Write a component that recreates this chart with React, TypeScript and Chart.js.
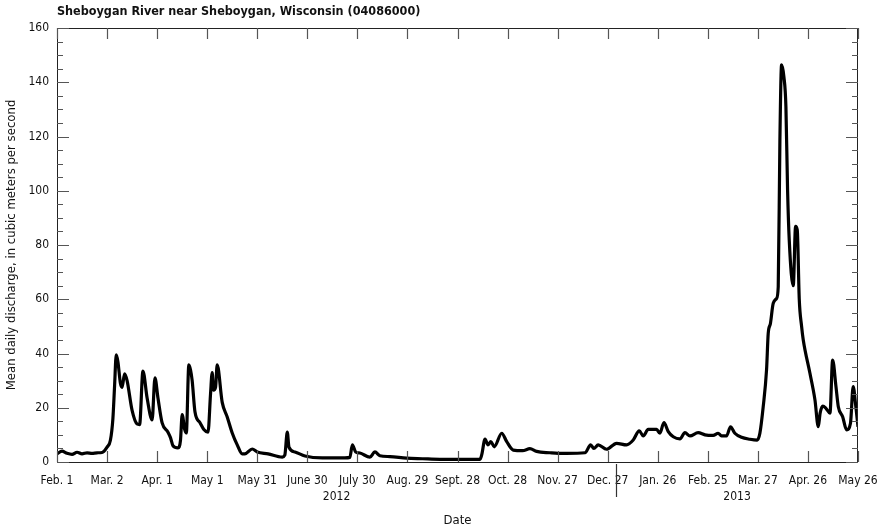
import React, { useEffect, useRef } from "react";
import { Chart, registerables } from "chart.js";

Chart.register(...registerables);

const TITLE = "Sheboygan River near Sheboygan, Wisconsin (04086000)";
const Y_TITLE = "Mean daily discharge, in cubic meters per second";
const X_TITLE = "Date";

// Days since Feb. 1, 2012
const dayIndex: number[] = [
  0, 3, 6, 9, 12, 15, 18, 21, 24, 27, 30, 32, 33.5, 34.5, 35.5, 36.5, 38, 39, 40.5, 42,
  45, 48, 49.5, 51.5, 54, 57, 58.7, 60.5, 63, 66.5, 68, 69.5, 72.5, 74, 75, 76.5, 77.5, 79, 80, 81,
  82.7, 85.7, 88, 90.5, 92, 93, 93.8, 95, 96, 99, 102, 105, 108, 111, 112.6, 117, 120, 126.5, 135, 136.5,
  138, 139, 142.6, 148.6, 159, 172.5, 175.5, 177, 179, 181.5, 187.5, 190.5, 193.5, 199.5, 209.5, 219, 229.5, 239.5, 253.5, 254.5,
  256.5, 258.3, 260, 262, 266.5, 269.5, 273.4, 279, 283.4, 287.4, 295.4, 300.4, 305.4, 316.4, 319.8, 321.7, 324.3, 329.3, 335.3, 341.3,
  345.3, 348.9, 351.3, 354.3, 359.3, 361.3, 363.7, 366.3, 369.3, 373.3, 376.3, 379.3, 384.2, 388.3, 393.2, 396.2, 398.2, 401.2, 403.6, 406.2,
  410.2, 415.2, 419.6, 421.2, 423.2, 425.2, 426.2, 427.5, 429.2, 431.2, 432.2, 433.2, 434.2, 435.6, 436.8, 437.8, 438.8, 441.2, 442.6, 443.6,
  444.8, 446.2, 447.2, 451.2, 454.2, 456.2, 457.3, 458.9, 460.8, 463.2, 464.8, 466.8, 468.2, 470.8, 473.2, 475.5, 477.1, 478.7, 480,
];

// Mean daily discharge, m3/s
const discharge: number[] = [
  3.0, 4.0, 3.2, 2.8, 3.6, 3.0, 3.4, 3.2, 3.4, 3.5, 5.5, 8, 16, 28, 39.5, 37, 29, 27.5, 32.5, 30,
  19, 14, 13.8, 33.5, 23.6, 15.5, 31, 23.6, 14.4, 11, 9, 6, 5.2, 8, 17.5, 12, 10.7, 35.8, 34, 30,
  18.4, 14.5, 12, 11, 25, 33, 26.5, 27.5, 35.8, 22, 16.6, 10.7, 6.3, 3, 3, 4.8, 3.7, 3, 1.8, 2.5,
  11, 5.5, 3.7, 2.2, 1.5, 1.5, 1.7, 6.3, 3.7, 3.3, 1.8, 3.7, 2.3, 2.0, 1.4, 1.2, 1.0, 1.0, 1.0, 2.6,
  8.4, 6.3, 7.5, 5.6, 10.6, 7.5, 4.4, 4.2, 4.9, 3.9, 3.4, 3.2, 3.2, 3.4, 6.3, 5, 6.3, 4.7, 6.9, 6.3,
  8.1, 11.5, 9.6, 12, 12, 10.6, 14.5, 11.2, 9.3, 8.5, 10.8, 9.6, 10.8, 10, 9.8, 10.6, 9.6, 9.6, 13, 10.6,
  9.1, 8.4, 8.1, 10.6, 20.4, 34, 47.4, 51, 58.5, 60.3, 64.6, 118.7, 146.4, 142, 131, 100.3, 81.8, 65, 86.9, 85.5,
  60, 50, 45, 32.7, 22.9, 13, 18, 20.6, 19.8, 18, 37.6, 27.8, 20.4, 16.7, 11.8, 14.3, 27.8, 20.4, 13,
];

const xTickDays: number[] = [0, 30, 60, 90, 120, 150, 180, 210, 240, 270, 300, 330, 360, 390, 420, 450, 480];
const xTickLabels: string[] = [
  "Feb. 1", "Mar. 2", "Apr. 1", "May 1", "May 31", "June 30", "July 30", "Aug. 29", "Sept. 28",
  "Oct. 28", "Nov. 27", "Dec. 27", "Jan. 26", "Feb. 25", "Mar. 27", "Apr. 26", "May 26",
];
const yearLabels: string[] = ["2012", "2013"];
const yearStartDays: number[] = [0, 335, 480]; // Feb 1 2012, Jan 1 2013, end

const FONT = '"Liberation Sans Narrow", "DejaVu Sans Condensed", "Roboto Condensed", "Liberation Sans", sans-serif';

const decorPlugin = {
  id: "decor",
  afterDraw(chart: any) {
    const { ctx, chartArea } = chart;
    const { left, right, top, bottom } = chartArea;
    const xs = chart.scales.x;
    const ys = chart.scales.y;
    ctx.save();
    // frame
    ctx.strokeStyle = "#222";
    ctx.lineWidth = 1;
    ctx.strokeRect(left + 0.5, top + 0.5, right - left - 1, bottom - top);
    // x ticks top and bottom, inward
    ctx.strokeStyle = "#555";
    ctx.lineWidth = 1.2;
    ctx.beginPath();
    xTickDays.forEach((d) => {
      const px = Math.round(xs.getPixelForValue(d)) + 0.5;
      ctx.moveTo(px, bottom);
      ctx.lineTo(px, bottom - 11);
      ctx.moveTo(px, top);
      ctx.lineTo(px, top + 11);
    });
    // y ticks left and right, inward; major every 20, minor every 5
    for (let v = 0; v <= 160; v += 5) {
      const py = Math.round(ys.getPixelForValue(v)) + 0.5;
      const len = v % 20 === 0 ? 12 : 6;
      ctx.moveTo(left, py);
      ctx.lineTo(left + len, py);
      ctx.moveTo(right, py);
      ctx.lineTo(right - len, py);
    }
    ctx.stroke();
    // year divider
    const divX = Math.round(xs.getPixelForValue(yearStartDays[1])) + 0.5;
    ctx.strokeStyle = "#333";
    ctx.lineWidth = 1.2;
    ctx.beginPath();
    ctx.moveTo(divX, bottom + 2);
    ctx.lineTo(divX, bottom + 35);
    ctx.stroke();
    // year labels
    ctx.fillStyle = "#111";
    ctx.font = `12px ${FONT}`;
    ctx.textAlign = "center";
    ctx.textBaseline = "middle";
    yearLabels.forEach((lab, i) => {
      const a = xs.getPixelForValue(yearStartDays[i]);
      const b = xs.getPixelForValue(yearStartDays[i + 1]);
      ctx.fillText(lab, (a + b) / 2, bottom + 35);
    });
    // title
    ctx.font = `bold 12.5px ${FONT}`;
    ctx.textAlign = "left";
    ctx.fillText(TITLE, left, 12);
    ctx.restore();
  },
};

export default function App() {
  const ref = useRef<HTMLCanvasElement | null>(null);
  useEffect(() => {
    document.body.style.margin = "0";
    const canvas = ref.current!;
    const points = dayIndex.map((d, i) => ({ x: d, y: discharge[i] }));
    const chart = new Chart(canvas, {
      type: "line",
      data: {
        datasets: [
          {
            data: points,
            borderColor: "#000",
            borderWidth: 3.2,
            pointRadius: 0,
            cubicInterpolationMode: "monotone",
            fill: false,
          },
        ],
      },
      options: {
        animation: false,
        responsive: false,
        maintainAspectRatio: false,
        layout: { padding: { left: 0, top: 28, right: 20, bottom: 0 } },
        plugins: { legend: { display: false }, tooltip: { enabled: false }, title: { display: false } },
        scales: {
          x: {
            type: "linear",
            min: 0,
            max: 480,
            grid: { display: false, drawTicks: false },
            border: { display: false },
            afterFit: (s: any) => {
              s.height = 67;
              s.paddingLeft = 0;
              s.paddingRight = 0;
            },
            afterBuildTicks: (s: any) => {
              s.ticks = xTickDays.map((v) => ({ value: v }));
            },
            ticks: {
              autoSkip: false,
              maxRotation: 0,
              padding: 12,
              color: "#111",
              font: { family: FONT, size: 12 },
              callback: (v: any) => {
                const i = xTickDays.indexOf(Number(v));
                return i >= 0 ? xTickLabels[i] : "";
              },
            },
            title: {
              display: true,
              text: X_TITLE,
              color: "#111",
              font: { family: FONT, size: 13 },
              padding: { top: 1, bottom: 1 },
            },
          },
          y: {
            min: 0,
            max: 160,
            grid: { display: false, drawTicks: false },
            border: { display: false },
            afterFit: (s: any) => {
              s.width = 57;
              s.paddingTop = 0;
              s.paddingBottom = 0;
            },
            ticks: {
              stepSize: 20,
              padding: 8,
              color: "#111",
              font: { family: FONT, size: 12 },
            },
            title: {
              display: true,
              text: Y_TITLE,
              color: "#111",
              font: { family: FONT, size: 13 },
              padding: { top: 4, bottom: 0 },
            },
          },
        },
      },
      plugins: [decorPlugin],
    } as any);
    return () => chart.destroy();
  }, []);
  return (
    <div style={{ position: "absolute", left: 0, top: 0, width: 878, height: 529 }}>
      <canvas ref={ref} width={878} height={529} style={{ width: 878, height: 529 }} />
    </div>
  );
}
